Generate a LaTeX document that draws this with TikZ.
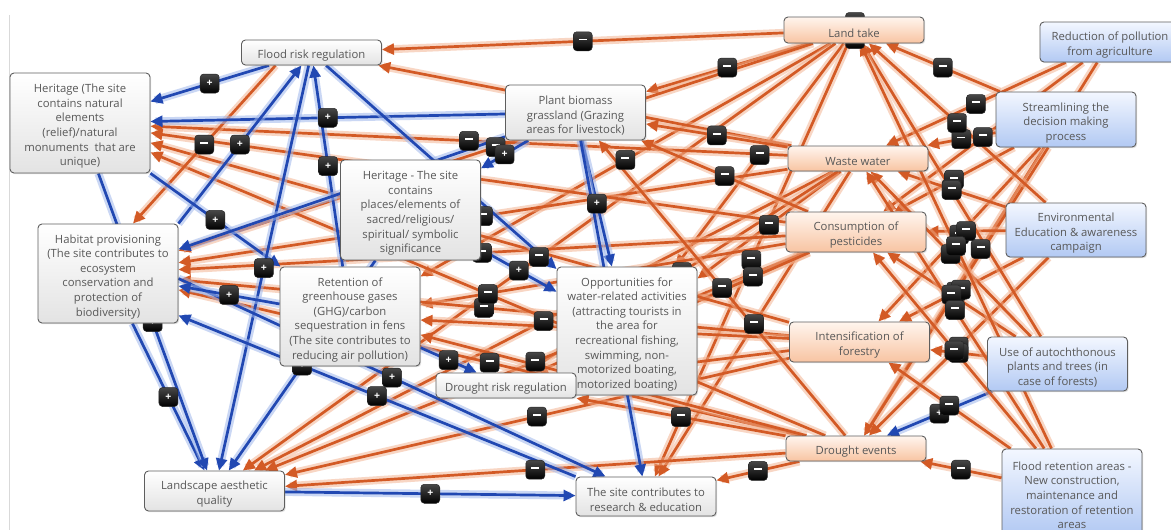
\documentclass[tikz,border=0pt]{standalone}
\usepackage{fontspec}
\setmainfont{Open Sans}
\usetikzlibrary{arrows.meta,calc,shadows}
\pgfdeclarelayer{bg}
\pgfdeclarelayer{edges}
\pgfdeclarelayer{labels}
\pgfsetlayers{bg,edges,labels,main}
\definecolor{ocol}{HTML}{D35A25}
\definecolor{ohalo}{HTML}{F2AE8A}
\definecolor{bcol}{HTML}{2148B2}
\definecolor{bhalo}{HTML}{9FB7EC}
\definecolor{txt}{HTML}{585858}
\definecolor{bord}{HTML}{5E5E5E}
\definecolor{gtop}{HTML}{FFFFFF}
\definecolor{gbot}{HTML}{E3E3E3}
\definecolor{otop}{HTML}{FFF5EE}
\definecolor{obot}{HTML}{F8C4A2}
\definecolor{btop}{HTML}{F3F7FF}
\definecolor{bbot}{HTML}{B2C9F3}
\newcount\edgeno
\newcommand\signm{\rule[3.4pt]{8pt}{1.8pt}}
\newcommand\signp{\textbf{+}}
\newcommand\tstrut{\rule{0pt}{15pt}}
\newcommand\lnk[5][0.5]{%
  \global\advance\edgeno by 1
  \begin{pgfonlayer}{edges}
    \draw[#2] (#3) -- (#4) coordinate[pos=#1] (lbl\the\edgeno);
  \end{pgfonlayer}
  \begin{pgfonlayer}{labels}
    \node[signbox] (s\the\edgeno) at (lbl\the\edgeno) {\csname sign#5\endcsname};
  \end{pgfonlayer}}
% connector whose label lies hidden behind a box
\newcommand\lnkh[3]{%
  \begin{pgfonlayer}{edges}
    \draw[#1] (#2) -- (#3);
  \end{pgfonlayer}}
\begin{document}
\begin{tikzpicture}[x=1pt,y=-1pt,
  box/.style={draw=bord, line width=0.9pt, rounded corners=4pt, minimum width=140pt,
    inner xsep=3pt, inner ysep=2pt, align=center, text=txt,
    font=\fontsize{11.3}{14.6}\selectfont,
    drop shadow={shadow xshift=1.2pt, shadow yshift=-1.2pt, opacity=.25}},
  gbox/.style={box, top color=gtop, bottom color=gbot},
  obox/.style={box, top color=otop, bottom color=obot},
  bbox/.style={box, top color=btop, bottom color=bbot},
  signbox/.style={minimum size=19pt, inner sep=0pt, rounded corners=3.5pt,
    top color=black!72, bottom color=black, draw=black!85, line width=.5pt,
    text=white, font=\fontsize{10.5}{10.5}\selectfont},
  neglink/.style={draw=ocol, line width=2.7pt, -{Triangle[length=12pt,width=11pt]},
    preaction={draw=ohalo, draw opacity=.5, line width=8pt, arrows=-, shorten >=5pt}},
  poslink/.style={draw=bcol, line width=2.7pt, -{Triangle[length=12pt,width=11pt]},
    preaction={draw=bhalo, draw opacity=.55, line width=8pt, arrows=-, shorten >=5pt}}]
\useasboundingbox (0,0) rectangle (1171,530);
\begin{pgfonlayer}{bg}
\fill[white] (0,0) rectangle (1171,530);
\draw[black!15, line width=1pt] (9,15) -- (9,530);
\end{pgfonlayer}

% nodes
\node[gbox, minimum height=25pt] (flood) at (311.5,52.5) {\tstrut Flood risk regulation};
\node[gbox, minimum height=100pt] (hernat) at (80,123) {\tstrut Heritage (The site\\contains natural\\elements\\(relief)/natural\\monuments\ \ that are\\unique)};
\node[gbox, minimum height=55pt] (plant) at (575.5,112.5) {\tstrut Plant biomass\\grassland (Grazing\\areas for livestock)};
\node[obox, minimum height=26pt] (land) at (854,30) {\tstrut Land take};
\node[bbox, minimum height=40pt] (redpol) at (1110,42) {\tstrut Reduction of pollution\\from agriculture};
\node[bbox, minimum height=55pt] (stream) at (1066,119.5) {\tstrut Streamlining the\\decision making\\process};
\node[obox, minimum height=25pt] (waste) at (858,158.5) {\tstrut Waste water};
\node[gbox, minimum height=100pt] (hersac) at (410.5,210) {\tstrut Heritage - The site\\contains\\places/elements of\\sacred/religious/\\spiritual/ symbolic\\significance};
\node[gbox, minimum height=99pt] (habitat) at (108,273.5) {\tstrut Habitat provisioning\\(The site contributes to\\ecosystem\\conservation and\\protection of\\biodiversity)};
\node[obox, minimum height=40pt] (pest) at (856,232) {\tstrut Consumption of\\pesticides};
\node[bbox, minimum height=54pt] (envedu) at (1076,230) {\tstrut Environmental\\Education \& awareness\\campaign};
\node[gbox, minimum height=99pt] (ghg) at (350,316.5) {\tstrut Retention of\\greenhouse gases\\(GHG)/carbon\\sequestration in fens\\(The site contributes to\\reducing air pollution)};
\node[gbox, minimum height=128pt] (opp) at (627,331) {\tstrut Opportunities for\\water-related activities\\(attracting tourists in\\the area for\\recreational fishing,\\swimming, non-\\motorized boating,\\motorized boating)};
\node[obox, minimum height=40pt] (forest) at (859.5,342) {\tstrut Intensification of\\forestry};
\node[bbox, minimum height=54pt] (auto) at (1057.5,364) {\tstrut Use of autochthonous\\plants and trees (in\\case of forests)};
\node[gbox, minimum height=25pt] (drisk) at (506,385.5) {\tstrut Drought risk regulation};
\node[obox, minimum height=25pt] (devents) at (856,448.5) {\tstrut Drought events};
\node[bbox, minimum height=86pt] (fret) at (1072,492) {\tstrut Flood retention areas -\\New construction,\\maintenance and\\restoration of retention\\areas};
\node[gbox, minimum height=40pt] (landscape) at (214.5,491) {\tstrut Landscape aesthetic\\quality};
\node[gbox, minimum height=39pt] (research) at (646,496.5) {\tstrut The site contributes to\\research \& education};

% measures -> drivers
\lnk{neglink}{redpol}{waste}{m}
\lnk{neglink}{redpol}{pest}{m}
\lnk{neglink}{redpol}{devents}{m}
\lnk{neglink}{stream}{land}{m}
\lnk{neglink}{stream}{waste}{m}
\lnk{neglink}{stream}{pest}{m}
\lnk{neglink}{stream}{forest}{m}
\lnk{neglink}{stream}{devents}{m}
\lnk{neglink}{envedu}{land}{m}
\lnk{neglink}{envedu}{waste}{m}
\lnk{neglink}{envedu}{pest}{m}
\lnk{neglink}{envedu}{forest}{m}
\lnk{neglink}{envedu}{devents}{m}
\lnk{neglink}{auto}{land}{m}
\lnk{neglink}{auto}{waste}{m}
\lnk{neglink}{auto}{pest}{m}
\lnk{neglink}{auto}{forest}{m}
\lnk{poslink}{auto}{devents}{p}
\lnk{neglink}{fret}{land}{m}
\lnk{neglink}{fret}{waste}{m}
\lnk{neglink}{fret}{pest}{m}
\lnk{neglink}{fret}{forest}{m}
\lnk{neglink}{fret}{devents}{m}

% drivers -> services
\lnk{neglink}{land}{flood}{m}
\lnk{neglink}{land}{plant}{m}
\lnk{neglink}{land}{habitat}{m}
\lnk{neglink}{land}{ghg}{m}
\lnk{neglink}{land}{opp}{m}
\lnk{neglink}{land}{landscape}{m}
\lnk{neglink}{land}{research}{m}
\lnkh{neglink}{waste}{flood}
\lnk{neglink}{waste}{plant}{m}
\lnk{neglink}{waste}{hernat}{m}
\lnk{neglink}{waste}{habitat}{m}
\lnk{neglink}{waste}{opp}{m}
\lnk{neglink}{waste}{landscape}{m}
\lnk{neglink}{waste}{research}{m}
\lnk{neglink}{waste}{drisk}{m}
\lnk{neglink}{pest}{plant}{m}
\lnkh{neglink}{pest}{hernat}
\lnk{neglink}{pest}{habitat}{m}
\lnkh{neglink}{pest}{ghg}
\lnk{neglink}{pest}{opp}{m}
\lnk{neglink}{pest}{landscape}{m}
\lnkh{neglink}{pest}{drisk}
\lnkh{neglink}{forest}{hernat}
\lnk{neglink}{forest}{habitat}{m}
\lnkh{neglink}{forest}{ghg}
\lnk{neglink}{forest}{landscape}{m}
\lnkh{neglink}{forest}{drisk}
\lnk{neglink}{devents}{plant}{m}
\lnk{neglink}{devents}{hernat}{m}
\lnk{neglink}{devents}{habitat}{m}
\lnkh{neglink}{devents}{ghg}
\lnk{neglink}{devents}{landscape}{m}
\lnk{neglink}{devents}{research}{m}
\lnk{neglink}{devents}{drisk}{m}
\lnk{neglink}{$(flood.south)+(-36,0)$}{$(habitat.north)+(25,0)$}{m}

% services -> services
\lnk{poslink}{flood}{hernat}{p}
\lnk{poslink}{plant}{hernat}{p}
\lnk{poslink}{habitat.north east}{flood}{p}
\lnk{poslink}{hernat}{ghg}{p}
\lnk{poslink}{habitat}{landscape}{p}
\lnk{poslink}{hernat}{landscape}{p}
\lnk{poslink}{flood}{landscape}{p}
\lnk{poslink}{plant}{opp}{p}
\lnkh{poslink}{plant}{research}
\lnk{poslink}{plant}{hersac}{p}
\lnk{poslink}{hersac}{opp}{p}
\lnk{poslink}{ghg}{drisk}{p}
\lnk{poslink}{landscape}{research}{p}
\lnk{poslink}{research.north west}{$(habitat.south east)+(0,-8)$}{p}
\lnk{poslink}{$(habitat.east)+(0,5)$}{$(research.north west)+(30,0)$}{p}
\lnk{poslink}{ghg}{habitat}{p}
\lnk{poslink}{ghg}{flood}{p}
\lnkh{poslink}{plant}{habitat}
\lnkh{poslink}{flood}{opp}
\lnk{poslink}{hersac}{landscape}{p}

% labels hidden behind Land take
\begin{pgfonlayer}{labels}
\node[signbox] (lt1) at (855,22) {\signm};
\node[signbox] (lt2) at (855,39) {\signm};
\end{pgfonlayer}
\end{tikzpicture}
\end{document}
